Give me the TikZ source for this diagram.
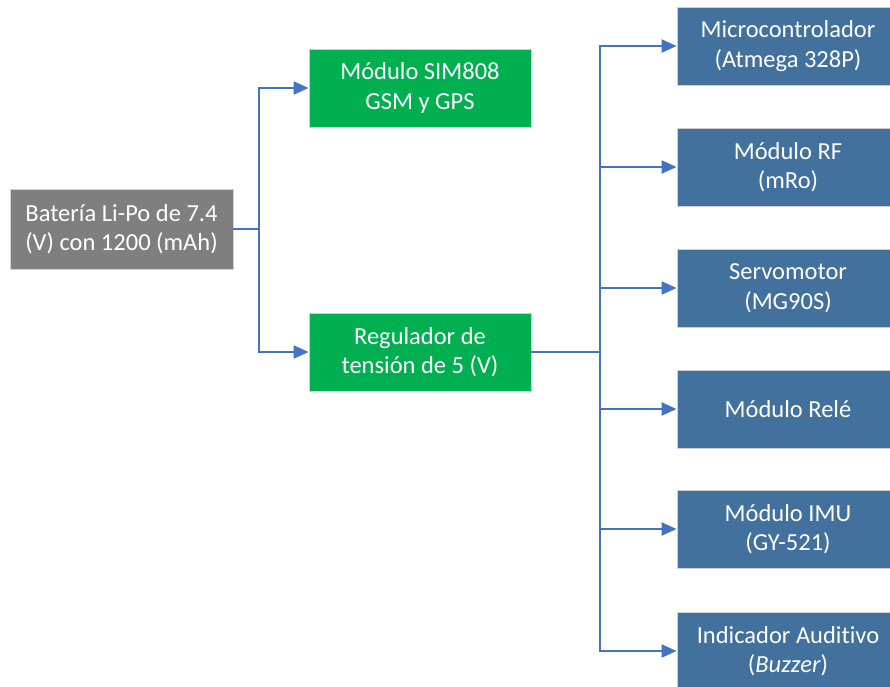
\documentclass[tikz,border=0pt]{standalone}
\usepackage{fontspec}
\setmainfont{Carlito}[Ligatures=NoCommon]
\usetikzlibrary{arrows.meta,positioning}
\definecolor{bGreen}{HTML}{00B050}
\definecolor{bBlue}{HTML}{41719C}
\definecolor{bGray}{HTML}{7F7F7F}
\definecolor{eLine}{HTML}{4472C4}
\tikzstyle{bS}=[rectangle,minimum width=222pt,minimum height=78pt,inner sep=0pt,draw=black!18,line width=0.8pt,text=white,align=center,font=\fontsize{24.5}{29.5}\selectfont]
\tikzstyle{eBlue}=[draw=eLine,line width=2pt]
\tikzstyle{eArrow}=[eBlue,-{Triangle[length=15pt,width=13pt]}]

\begin{document}
\begin{tikzpicture}[x=1pt,y=-1pt]
                \useasboundingbox (0,0) rectangle (890,686);
                \draw (121.5,229) node[bS,fill=bGray,minimum width=223pt,minimum height=80pt] (bat) {Batería Li-Po de 7.4\\(V) con 1200 (mAh)};
                \draw (420,88) node[bS,fill=bGreen] (sim) {Módulo SIM808\\GSM y GPS};
                \draw (420,352) node[bS,fill=bGreen] (reg) {Regulador de\\tensión de 5 (V)};
                \draw (788,46) node[bS,fill=bBlue] (mcu) {Microcontrolador\\(Atmega 328P)};
                \draw (788,167) node[bS,fill=bBlue] (rf) {Módulo RF\\(mRo)};
                \draw (788,288) node[bS,fill=bBlue] (servo) {Servomotor\\(MG90S)};
                \draw (788,409) node[bS,fill=bBlue] (rele) {Módulo Relé};
                \draw (788,529) node[bS,fill=bBlue] (imu) {Módulo IMU\\(GY-521)};
                \draw (788,651) node[bS,fill=bBlue] (buzz) {Indicador Auditivo\\(\textit{Buzzer})};
                \coordinate (jBat) at (259,229);
                \coordinate (jReg) at (600,352);
                \path
                    (bat.east) edge[eBlue] (jBat)
                    (jBat) edge[eArrow,to path={|- (\tikztotarget)}] (sim.west)
                    (jBat) edge[eArrow,to path={|- (\tikztotarget)}] (reg.west)
                    (reg.east) edge[eBlue] (jReg)
                    (jReg) edge[eArrow,to path={|- (\tikztotarget)}] (mcu.west)
                    (jReg) edge[eArrow,to path={|- (\tikztotarget)}] (rf.west)
                    (jReg) edge[eArrow,to path={|- (\tikztotarget)}] (servo.west)
                    (jReg) edge[eArrow,to path={|- (\tikztotarget)}] (rele.west)
                    (jReg) edge[eArrow,to path={|- (\tikztotarget)}] (imu.west)
                    (jReg) edge[eArrow,to path={|- (\tikztotarget)}] (buzz.west)
                ;
        \end{tikzpicture}
\end{document}
